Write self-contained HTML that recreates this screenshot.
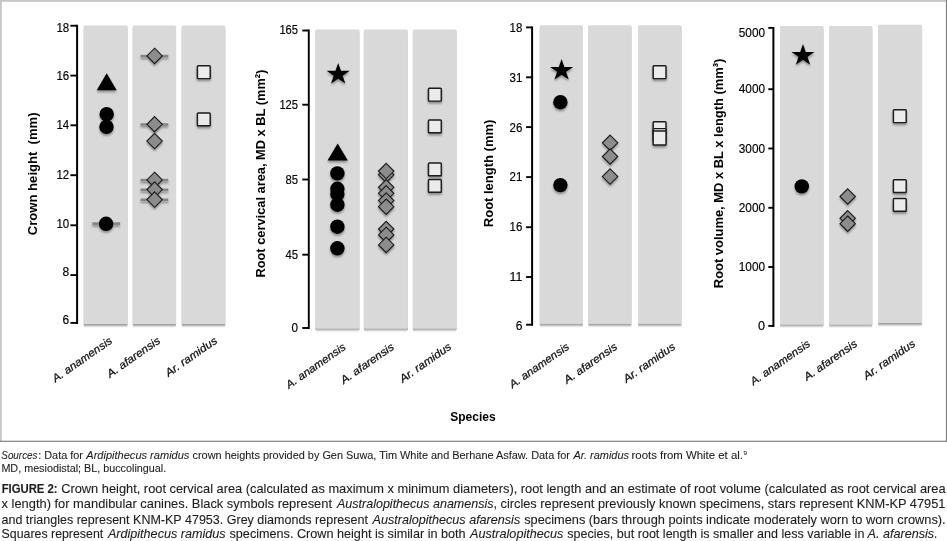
<!DOCTYPE html>
<html><head><meta charset="utf-8"><title>Figure 2</title>
<style>
html,body{margin:0;padding:0;background:#fff;}
svg{display:block;}
text{font-family:"Liberation Sans", sans-serif;fill:#111;}
.tk{font-size:11.9px;fill:#000;stroke:#000;stroke-width:0.15px;}
.yl{font-size:13.7px;font-weight:bold;fill:#000;}
.xl{font-size:11px;font-style:italic;fill:#111;stroke:#111;stroke-width:0.25px;}
.src{font-size:10px;fill:#1c1c1c;stroke:#1c1c1c;stroke-width:0.08px;}
.cap{font-size:12.1px;fill:#1c1c1c;stroke:#1c1c1c;stroke-width:0.1px;}
</style></head><body>
<svg width="947" height="541" viewBox="0 0 947 541">
<defs>
<filter id="sh" x="-30%" y="-10%" width="160%" height="130%"><feGaussianBlur in="SourceAlpha" stdDeviation="0.4 1.0"/><feOffset dx="0" dy="1.6"/><feComponentTransfer result="s"><feFuncA type="linear" slope="0.4"/></feComponentTransfer><feGaussianBlur in="SourceGraphic" stdDeviation="0.45" result="g"/><feMerge><feMergeNode in="s"/><feMergeNode in="g"/></feMerge></filter>
<filter id="ms" x="-40%" y="-40%" width="180%" height="200%"><feGaussianBlur in="SourceAlpha" stdDeviation="1.2"/><feOffset dx="0" dy="1.8"/><feComponentTransfer><feFuncA type="linear" slope="0.36"/></feComponentTransfer><feMerge><feMergeNode/><feMergeNode in="SourceGraphic"/></feMerge></filter>
</defs>
<rect width="947" height="541" fill="#fff"/>
<rect x="0" y="0" width="947" height="1.8" fill="#c6c6c6"/><rect x="0" y="0" width="1.8" height="441.5" fill="#c6c6c6"/><rect x="945.9" y="0" width="1.1" height="442" fill="#808080"/><rect x="0" y="440.7" width="947" height="1.2" fill="#808080"/>

<g filter="url(#sh)">
<rect x="83.6" y="25.6" width="44.1" height="298.4" rx="1.5" fill="#d9d9d9"/>
<rect x="132.6" y="25.6" width="43.5" height="298.4" rx="1.5" fill="#d9d9d9"/>
<rect x="181.6" y="25.6" width="43.8" height="298.4" rx="1.5" fill="#d9d9d9"/>
</g>
<path d="M77.1 24.75V323.90" stroke="#000" stroke-width="2.0" fill="none"/>
<path d="M70.4 25.75H77.1" stroke="#000" stroke-width="1.9"/>
<text class="tk" x="69.19999999999999" y="31.90" text-anchor="end" textLength="12.8" lengthAdjust="spacingAndGlyphs">18</text>
<path d="M70.4 75.60H77.1" stroke="#000" stroke-width="1.9"/>
<text class="tk" x="69.19999999999999" y="79.90" text-anchor="end" textLength="12.8" lengthAdjust="spacingAndGlyphs">16</text>
<path d="M70.4 125.30H77.1" stroke="#000" stroke-width="1.9"/>
<text class="tk" x="69.19999999999999" y="128.70" text-anchor="end" textLength="12.8" lengthAdjust="spacingAndGlyphs">14</text>
<path d="M70.4 175.20H77.1" stroke="#000" stroke-width="1.9"/>
<text class="tk" x="69.19999999999999" y="179.40" text-anchor="end" textLength="12.8" lengthAdjust="spacingAndGlyphs">12</text>
<path d="M70.4 225.30H77.1" stroke="#000" stroke-width="1.9"/>
<text class="tk" x="69.19999999999999" y="228.00" text-anchor="end" textLength="12.8" lengthAdjust="spacingAndGlyphs">10</text>
<path d="M70.4 275.10H77.1" stroke="#000" stroke-width="1.9"/>
<text class="tk" x="69.19999999999999" y="276.20" text-anchor="end" textLength="6.7" lengthAdjust="spacingAndGlyphs">8</text>
<path d="M70.4 322.90H77.1" stroke="#000" stroke-width="1.9"/>
<text class="tk" x="69.19999999999999" y="324.10" text-anchor="end" textLength="6.7" lengthAdjust="spacingAndGlyphs">6</text>
<text class="yl" transform="translate(36.5 235.2) rotate(-90)" textLength="122.79999999999998" lengthAdjust="spacingAndGlyphs" xml:space="preserve">Crown height  (mm)</text>
<text class="xl" transform="translate(113 342.3) rotate(-35)" text-anchor="end" textLength="70.3" lengthAdjust="spacingAndGlyphs">A. anamensis</text>
<text class="xl" transform="translate(161 342.3) rotate(-35)" text-anchor="end" textLength="62.3" lengthAdjust="spacingAndGlyphs">A. afarensis</text>
<text class="xl" transform="translate(218 342.3) rotate(-35)" text-anchor="end" textLength="60.5" lengthAdjust="spacingAndGlyphs">Ar. ramidus</text>
<g filter="url(#sh)">
<rect x="315.4" y="29.4" width="44.1" height="298.9" rx="1.5" fill="#d9d9d9"/>
<rect x="363.8" y="29.4" width="44.1" height="298.9" rx="1.5" fill="#d9d9d9"/>
<rect x="412.8" y="29.4" width="43.9" height="298.9" rx="1.5" fill="#d9d9d9"/>
</g>
<path d="M308.8 29.50V329.00" stroke="#000" stroke-width="1.9" fill="none"/>
<path d="M302.3 30.50H308.8" stroke="#000" stroke-width="1.9"/>
<text class="tk" x="298.0" y="33.90" text-anchor="end" textLength="18.6" lengthAdjust="spacingAndGlyphs">165</text>
<path d="M302.3 104.70H308.8" stroke="#000" stroke-width="1.9"/>
<text class="tk" x="298.0" y="108.70" text-anchor="end" textLength="18.6" lengthAdjust="spacingAndGlyphs">125</text>
<path d="M302.3 179.50H308.8" stroke="#000" stroke-width="1.9"/>
<text class="tk" x="298.0" y="183.50" text-anchor="end" textLength="12.6" lengthAdjust="spacingAndGlyphs">85</text>
<path d="M302.3 254.70H308.8" stroke="#000" stroke-width="1.9"/>
<text class="tk" x="298.0" y="258.60" text-anchor="end" textLength="12.6" lengthAdjust="spacingAndGlyphs">45</text>
<path d="M302.3 328.00H308.8" stroke="#000" stroke-width="1.9"/>
<text class="tk" x="298.0" y="332.20" text-anchor="end" textLength="6.5" lengthAdjust="spacingAndGlyphs">0</text>
<text class="yl" transform="translate(265.1 277.6) rotate(-90)" textLength="208.00000000000003" lengthAdjust="spacingAndGlyphs" xml:space="preserve">Root cervical area, MD x BL (mm²)</text>
<text class="xl" transform="translate(346.6 348.6) rotate(-35)" text-anchor="end" textLength="70.3" lengthAdjust="spacingAndGlyphs">A. anamensis</text>
<text class="xl" transform="translate(394.8 348.5) rotate(-35)" text-anchor="end" textLength="62.3" lengthAdjust="spacingAndGlyphs">A. afarensis</text>
<text class="xl" transform="translate(452.2 348.3) rotate(-35)" text-anchor="end" textLength="60.5" lengthAdjust="spacingAndGlyphs">Ar. ramidus</text>
<g filter="url(#sh)">
<rect x="539.7" y="25.3" width="43.3" height="298.5" rx="1.5" fill="#d9d9d9"/>
<rect x="588.2" y="25.3" width="43.4" height="298.5" rx="1.5" fill="#d9d9d9"/>
<rect x="638" y="25.3" width="43.6" height="298.5" rx="1.5" fill="#d9d9d9"/>
</g>
<path d="M532.1 26.40V325.70" stroke="#000" stroke-width="2.0" fill="none"/>
<path d="M526.1 27.40H532.1" stroke="#000" stroke-width="1.9"/>
<text class="tk" x="522.4" y="32.20" text-anchor="end" textLength="12.8" lengthAdjust="spacingAndGlyphs">18</text>
<path d="M526.1 77.30H532.1" stroke="#000" stroke-width="1.9"/>
<text class="tk" x="522.4" y="81.80" text-anchor="end" textLength="12.8" lengthAdjust="spacingAndGlyphs">31</text>
<path d="M526.1 127.10H532.1" stroke="#000" stroke-width="1.9"/>
<text class="tk" x="522.4" y="131.50" text-anchor="end" textLength="12.8" lengthAdjust="spacingAndGlyphs">26</text>
<path d="M526.1 177.10H532.1" stroke="#000" stroke-width="1.9"/>
<text class="tk" x="522.4" y="181.30" text-anchor="end" textLength="12.8" lengthAdjust="spacingAndGlyphs">21</text>
<path d="M526.1 227.20H532.1" stroke="#000" stroke-width="1.9"/>
<text class="tk" x="522.4" y="230.90" text-anchor="end" textLength="12.8" lengthAdjust="spacingAndGlyphs">16</text>
<path d="M526.1 277.00H532.1" stroke="#000" stroke-width="1.9"/>
<text class="tk" x="522.4" y="280.80" text-anchor="end" textLength="12.8" lengthAdjust="spacingAndGlyphs">11</text>
<path d="M526.1 324.70H532.1" stroke="#000" stroke-width="1.9"/>
<text class="tk" x="522.4" y="329.60" text-anchor="end" textLength="6.7" lengthAdjust="spacingAndGlyphs">6</text>
<text class="yl" transform="translate(492.9 227.2) rotate(-90)" textLength="107.6" lengthAdjust="spacingAndGlyphs" xml:space="preserve">Root length (mm)</text>
<text class="xl" transform="translate(570 348.3) rotate(-35)" text-anchor="end" textLength="70.3" lengthAdjust="spacingAndGlyphs">A. anamensis</text>
<text class="xl" transform="translate(618 348.3) rotate(-35)" text-anchor="end" textLength="62.3" lengthAdjust="spacingAndGlyphs">A. afarensis</text>
<text class="xl" transform="translate(676 348.3) rotate(-35)" text-anchor="end" textLength="60.5" lengthAdjust="spacingAndGlyphs">Ar. ramidus</text>
<g filter="url(#sh)">
<rect x="780" y="26.0" width="43.6" height="298.3" rx="1.5" fill="#d9d9d9"/>
<rect x="829" y="26.0" width="43.4" height="298.3" rx="1.5" fill="#d9d9d9"/>
<rect x="878" y="24.8" width="44.1" height="298.3" rx="1.5" fill="#d9d9d9"/>
</g>
<path d="M773.4 26.90V326.90" stroke="#000" stroke-width="2.0" fill="none"/>
<path d="M768.3 27.90H773.4" stroke="#000" stroke-width="1.9"/>
<text class="tk" x="765.1" y="36.50" text-anchor="end" textLength="26.3" lengthAdjust="spacingAndGlyphs">5000</text>
<path d="M768.3 89.20H773.4" stroke="#000" stroke-width="1.9"/>
<text class="tk" x="765.1" y="93.20" text-anchor="end" textLength="26.3" lengthAdjust="spacingAndGlyphs">4000</text>
<path d="M768.3 148.50H773.4" stroke="#000" stroke-width="1.9"/>
<text class="tk" x="765.1" y="152.50" text-anchor="end" textLength="26.3" lengthAdjust="spacingAndGlyphs">3000</text>
<path d="M768.3 207.80H773.4" stroke="#000" stroke-width="1.9"/>
<text class="tk" x="765.1" y="211.70" text-anchor="end" textLength="26.3" lengthAdjust="spacingAndGlyphs">2000</text>
<path d="M768.3 267.00H773.4" stroke="#000" stroke-width="1.9"/>
<text class="tk" x="765.1" y="270.90" text-anchor="end" textLength="26.3" lengthAdjust="spacingAndGlyphs">1000</text>
<path d="M768.3 325.90H773.4" stroke="#000" stroke-width="1.9"/>
<text class="tk" x="765.1" y="330.00" text-anchor="end" textLength="7.0" lengthAdjust="spacingAndGlyphs">0</text>
<text class="yl" transform="translate(722.8 288.2) rotate(-90)" textLength="229.6" lengthAdjust="spacingAndGlyphs" xml:space="preserve">Root volume, MD x BL x length (mm³)</text>
<text class="xl" transform="translate(811 345.3) rotate(-35)" text-anchor="end" textLength="70.3" lengthAdjust="spacingAndGlyphs">A. anamensis</text>
<text class="xl" transform="translate(858 345.3) rotate(-35)" text-anchor="end" textLength="62.3" lengthAdjust="spacingAndGlyphs">A. afarensis</text>
<text class="xl" transform="translate(916 345.3) rotate(-35)" text-anchor="end" textLength="60.5" lengthAdjust="spacingAndGlyphs">Ar. ramidus</text>
<g filter="url(#ms)">
<rect x="92.3" y="222.29999999999998" width="27.8" height="2.6" fill="#858585"/>
<circle cx="106.1" cy="223.8" r="7.2" fill="#000"/>
<circle cx="106.7" cy="114.2" r="7.2" fill="#000"/>
<circle cx="106.5" cy="126.8" r="7.2" fill="#000"/>
<polygon points="106.7,73.2 116.7,90.2 96.7,90.2" fill="#000"/>
<rect x="140.5" y="54.800000000000004" width="27.8" height="2.6" fill="#858585"/>
<rect x="140.5" y="123.2" width="27.8" height="2.6" fill="#858585"/>
<rect x="140.5" y="178.79999999999998" width="27.8" height="2.6" fill="#858585"/>
<rect x="140.5" y="188.49999999999997" width="27.8" height="2.6" fill="#858585"/>
<rect x="140.5" y="198.49999999999997" width="27.8" height="2.6" fill="#858585"/>
<polygon points="154.6,48.199999999999996 162.29999999999998,55.9 154.6,63.6 146.9,55.9" fill="#8c8c8c" stroke="#1a1a1a" stroke-width="1.1"/>
<polygon points="154.6,116.6 162.29999999999998,124.3 154.6,132.0 146.9,124.3" fill="#8c8c8c" stroke="#1a1a1a" stroke-width="1.1"/>
<polygon points="154.6,133.4 162.29999999999998,141.1 154.6,148.79999999999998 146.9,141.1" fill="#8c8c8c" stroke="#1a1a1a" stroke-width="1.1"/>
<polygon points="154.6,172.20000000000002 162.29999999999998,179.9 154.6,187.6 146.9,179.9" fill="#8c8c8c" stroke="#1a1a1a" stroke-width="1.1"/>
<polygon points="154.6,181.9 162.29999999999998,189.6 154.6,197.29999999999998 146.9,189.6" fill="#8c8c8c" stroke="#1a1a1a" stroke-width="1.1"/>
<polygon points="154.6,191.9 162.29999999999998,199.6 154.6,207.29999999999998 146.9,199.6" fill="#8c8c8c" stroke="#1a1a1a" stroke-width="1.1"/>
<rect x="197.40" y="65.80" width="12.8" height="12.8" rx="0.8" fill="#ebebeb" stroke="#1a1a1a" stroke-width="1.45"/>
<rect x="197.40" y="112.90" width="12.8" height="12.8" rx="0.8" fill="#ebebeb" stroke="#1a1a1a" stroke-width="1.45"/>
<polygon points="338.20,62.90 340.94,70.78 349.80,70.78 342.63,75.65 345.37,83.52 338.20,78.65 331.03,83.52 333.77,75.65 326.60,70.78 335.46,70.78" fill="#000"/>
<polygon points="337.7,143.6 347.9,160.6 327.5,160.6" fill="#000"/>
<circle cx="337.4" cy="173.4" r="7.2" fill="#000"/>
<circle cx="337.4" cy="188.8" r="7.2" fill="#000"/>
<circle cx="337.4" cy="194.0" r="7.2" fill="#000"/>
<circle cx="337.4" cy="204.7" r="7.2" fill="#000"/>
<circle cx="337.4" cy="226.7" r="7.2" fill="#000"/>
<circle cx="337.4" cy="248.3" r="7.2" fill="#000"/>
<polygon points="386.2,167.10000000000002 393.9,174.8 386.2,182.5 378.5,174.8" fill="#8c8c8c" stroke="#1a1a1a" stroke-width="1.1"/>
<polygon points="386.2,163.4 393.9,171.1 386.2,178.79999999999998 378.5,171.1" fill="#8c8c8c" stroke="#1a1a1a" stroke-width="1.1"/>
<polygon points="386.2,179.60000000000002 393.9,187.3 386.2,195.0 378.5,187.3" fill="#8c8c8c" stroke="#1a1a1a" stroke-width="1.1"/>
<polygon points="386.2,185.60000000000002 393.9,193.3 386.2,201.0 378.5,193.3" fill="#8c8c8c" stroke="#1a1a1a" stroke-width="1.1"/>
<polygon points="386.2,192.9 393.9,200.6 386.2,208.29999999999998 378.5,200.6" fill="#8c8c8c" stroke="#1a1a1a" stroke-width="1.1"/>
<polygon points="386.2,199.0 393.9,206.7 386.2,214.39999999999998 378.5,206.7" fill="#8c8c8c" stroke="#1a1a1a" stroke-width="1.1"/>
<polygon points="386.2,221.3 393.9,229 386.2,236.7 378.5,229" fill="#8c8c8c" stroke="#1a1a1a" stroke-width="1.1"/>
<polygon points="386.2,227.20000000000002 393.9,234.9 386.2,242.6 378.5,234.9" fill="#8c8c8c" stroke="#1a1a1a" stroke-width="1.1"/>
<polygon points="386.2,237.20000000000002 393.9,244.9 386.2,252.6 378.5,244.9" fill="#8c8c8c" stroke="#1a1a1a" stroke-width="1.1"/>
<rect x="428.50" y="88.30" width="12.8" height="12.8" rx="0.8" fill="#ebebeb" stroke="#1a1a1a" stroke-width="1.45"/>
<rect x="428.50" y="120.00" width="12.8" height="12.8" rx="0.8" fill="#ebebeb" stroke="#1a1a1a" stroke-width="1.45"/>
<rect x="428.50" y="163.00" width="12.8" height="12.8" rx="0.8" fill="#ebebeb" stroke="#1a1a1a" stroke-width="1.45"/>
<rect x="428.50" y="179.50" width="12.8" height="12.8" rx="0.8" fill="#ebebeb" stroke="#1a1a1a" stroke-width="1.45"/>
<polygon points="561.60,59.00 564.34,66.88 573.20,66.88 566.03,71.75 568.77,79.62 561.60,74.75 554.43,79.62 557.17,71.75 550.00,66.88 558.86,66.88" fill="#000"/>
<circle cx="560.4" cy="102.2" r="7.2" fill="#000"/>
<circle cx="560.4" cy="185.1" r="7.2" fill="#000"/>
<polygon points="610.1,135.10000000000002 617.8000000000001,142.8 610.1,150.5 602.4,142.8" fill="#8c8c8c" stroke="#1a1a1a" stroke-width="1.1"/>
<polygon points="610.1,148.8 617.8000000000001,156.5 610.1,164.2 602.4,156.5" fill="#8c8c8c" stroke="#1a1a1a" stroke-width="1.1"/>
<polygon points="610.1,168.9 617.8000000000001,176.6 610.1,184.29999999999998 602.4,176.6" fill="#8c8c8c" stroke="#1a1a1a" stroke-width="1.1"/>
<rect x="653.20" y="65.80" width="12.8" height="12.8" rx="0.8" fill="#ebebeb" stroke="#1a1a1a" stroke-width="1.45"/>
<rect x="653.20" y="121.70" width="12.8" height="12.8" rx="0.8" fill="#ebebeb" stroke="#1a1a1a" stroke-width="1.45"/>
<rect x="653.20" y="128.60" width="12.8" height="12.8" rx="0.8" fill="#ebebeb" stroke="#1a1a1a" stroke-width="1.45"/>
<rect x="653.15" y="131.00" width="12.9" height="14.0" rx="0.8" fill="#ebebeb" stroke="#1a1a1a" stroke-width="1.45"/>
<polygon points="803.00,44.10 805.74,51.98 814.60,51.98 807.43,56.85 810.17,64.72 803.00,59.85 795.83,64.72 798.57,56.85 791.40,51.98 800.26,51.98" fill="#000"/>
<circle cx="801.8" cy="186.4" r="7.2" fill="#000"/>
<polygon points="847.7,188.8 855.4000000000001,196.5 847.7,204.2 840.0,196.5" fill="#8c8c8c" stroke="#1a1a1a" stroke-width="1.1"/>
<polygon points="847.7,210.60000000000002 855.4000000000001,218.3 847.7,226.0 840.0,218.3" fill="#8c8c8c" stroke="#1a1a1a" stroke-width="1.1"/>
<polygon points="847.7,216.0 855.4000000000001,223.7 847.7,231.39999999999998 840.0,223.7" fill="#8c8c8c" stroke="#1a1a1a" stroke-width="1.1"/>
<rect x="893.40" y="109.80" width="12.8" height="12.8" rx="0.8" fill="#ebebeb" stroke="#1a1a1a" stroke-width="1.45"/>
<rect x="893.40" y="179.70" width="12.8" height="12.8" rx="0.8" fill="#ebebeb" stroke="#1a1a1a" stroke-width="1.45"/>
<rect x="893.40" y="198.40" width="12.8" height="12.8" rx="0.8" fill="#ebebeb" stroke="#1a1a1a" stroke-width="1.45"/>
</g>
<text x="450.2" y="420.9" style="font-size:12.3px;font-weight:bold;fill:#000" textLength="45.4" lengthAdjust="spacingAndGlyphs">Species</text>
<text class="src" y="458.8"><tspan x="1.3" textLength="36.2" lengthAdjust="spacingAndGlyphs" font-style="italic">Sources</tspan> <tspan x="38.2" textLength="44.8" lengthAdjust="spacingAndGlyphs">: Data for</tspan> <tspan x="86.3" textLength="103.1" lengthAdjust="spacingAndGlyphs" font-style="italic">Ardipithecus ramidus</tspan> <tspan x="192.5" textLength="377.5" lengthAdjust="spacingAndGlyphs">crown heights provided by Gen Suwa, Tim White and Berhane Asfaw. Data for</tspan> <tspan x="573.4" textLength="55.6" lengthAdjust="spacingAndGlyphs" font-style="italic">Ar. ramidus</tspan> <tspan x="631.5" textLength="111.5" lengthAdjust="spacingAndGlyphs">roots from White et al.</tspan> <tspan x="743.5" textLength="3.5" lengthAdjust="spacingAndGlyphs" font-size="6.2" dy="-3.4">9</tspan></text>
<text class="src" y="471.9"><tspan x="1.4" textLength="164.8" lengthAdjust="spacingAndGlyphs">MD, mesiodistal; BL, buccolingual.</tspan></text>
<text class="cap" y="493.4"><tspan x="1.7" textLength="55.9" lengthAdjust="spacingAndGlyphs" font-weight="bold">FIGURE 2:</tspan> <tspan x="61.2" textLength="884.4" lengthAdjust="spacingAndGlyphs">Crown height, root cervical area (calculated as maximum x minimum diameters), root length and an estimate of root volume (calculated as root cervical area</tspan></text>
<text class="cap" y="508.4"><tspan x="1.6" textLength="330.4" lengthAdjust="spacingAndGlyphs">x length) for mandibular canines. Black symbols represent</tspan> <tspan x="337.0" textLength="156.5" lengthAdjust="spacingAndGlyphs" font-style="italic">Australopithecus anamensis</tspan> <tspan x="493.4" textLength="452.0" lengthAdjust="spacingAndGlyphs">, circles represent previously known specimens, stars represent KNM-KP 47951</tspan></text>
<text class="cap" y="523.5"><tspan x="1.5" textLength="366.5" lengthAdjust="spacingAndGlyphs">and triangles represent KNM-KP 47953. Grey diamonds represent</tspan> <tspan x="372.6" textLength="147.6" lengthAdjust="spacingAndGlyphs" font-style="italic">Australopithecus afarensis</tspan> <tspan x="524.2" textLength="421.4" lengthAdjust="spacingAndGlyphs">specimens (bars through points indicate moderately worn to worn crowns).</tspan></text>
<text class="cap" y="538.4"><tspan x="1.6" textLength="101.6" lengthAdjust="spacingAndGlyphs">Squares represent</tspan> <tspan x="107.9" textLength="117.7" lengthAdjust="spacingAndGlyphs" font-style="italic">Ardipithecus ramidus</tspan> <tspan x="229.5" textLength="236.1" lengthAdjust="spacingAndGlyphs">specimens. Crown height is similar in both</tspan> <tspan x="470.1" textLength="93.3" lengthAdjust="spacingAndGlyphs" font-style="italic">Australopithecus</tspan> <tspan x="567.3" textLength="297.1" lengthAdjust="spacingAndGlyphs">species, but root length is smaller and less variable in</tspan> <tspan x="867.6" textLength="66.5" lengthAdjust="spacingAndGlyphs" font-style="italic">A. afarensis</tspan> <tspan x="934.0" textLength="3.2" lengthAdjust="spacingAndGlyphs">.</tspan></text>
</svg></body></html>
